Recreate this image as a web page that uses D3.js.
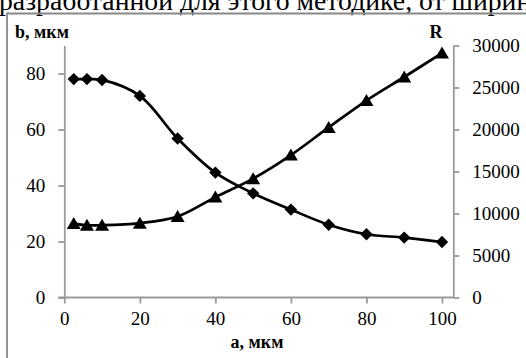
<!DOCTYPE html>
<html><head><meta charset="utf-8">
<script src="https://cdn.jsdelivr.net/npm/d3@7"></script>
<style>html,body{margin:0;padding:0;background:#fff;overflow:hidden}</style>
</head><body>
<script>
const aValues = [2.5, 6, 10, 20, 30, 40, 50, 60, 70, 80, 90, 100];
const bValues = [78, 78, 77.7, 72, 56.8, 44.6, 37.2, 31.4, 26, 22.6, 21.4, 19.8];
const rValues = [8800, 8600, 8600, 8850, 9650, 11950, 14150, 16950, 20250, 23450, 26250, 29100];
const xTicks = [0, 20, 40, 60, 80, 100];
const bTicks = [0, 20, 40, 60, 80];
const rTicks = [0, 5000, 10000, 15000, 20000, 25000, 30000];
const headText = "разработанной для этого методике, от ширины";
const bTitle = "b, мкм", rTitle = "R", aTitle = "a, мкм";

const W = 526, H = 358;
const FF = '"Liberation Serif"';
const svg = d3.select("body").append("svg").attr("width", W).attr("height", H);
const gray = "#9a9a9a";

const head = svg.append("text").attr("x", -1).attr("y", 9.5).style("font-family", FF).style("font-size", "22px")
  .attr("fill", "#000").text(headText);
const probe = svg.append("text").style("font-family", FF).style("font-size", "22px").text("разработанной");
const wl = probe.node().getComputedTextLength();
probe.remove();
head.style("font-size", (22 * 174 / wl).toFixed(2) + "px");

svg.append("path").attr("d", `M7,${H+2}V13.5H${W+2}`).attr("fill", "none").attr("stroke", "#888").attr("stroke-width", 1.8);

const x = d3.scaleLinear().domain([0, 103]).range([64.3, 453.3]);
const yL = d3.scaleLinear().domain([0, 90]).range([297.5, 45.5]);
const yR = d3.scaleLinear().domain([0, 30000]).range([297.5, 45.5]);

function styleAxis(g) {
  g.attr("font-family", null).attr("font-size", null);
  g.selectAll("path.domain").attr("stroke", gray).attr("stroke-width", 1.8);
  g.selectAll(".tick line").attr("stroke", gray).attr("stroke-width", 1.8);
  g.selectAll("text").style("font-family", FF).style("font-size", "19px").attr("fill", "#000");
}

const gx = svg.append("g").attr("transform", `translate(0,${yL(0)})`)
  .call(d3.axisBottom(x).tickValues(xTicks).tickSize(6).tickSizeOuter(0).tickPadding(8).tickFormat(d3.format("d")));
styleAxis(gx);
gx.select("path.domain").attr("d", `M${x(0)-6},0H${x(103)}`);

const gl = svg.append("g").attr("transform", `translate(${x(0)},0)`)
  .call(d3.axisLeft(yL).tickValues(bTicks).tickSize(6).tickSizeOuter(0).tickPadding(13).tickFormat(d3.format("d")));
styleAxis(gl);

const gr = svg.append("g").attr("transform", `translate(${x(103)},0)`)
  .call(d3.axisRight(yR).tickValues(rTicks).tickSize(6).tickSizeOuter(0).tickPadding(13).tickFormat(d3.format("d")));
styleAxis(gr);

svg.append("text").attr("x", 15).attr("y", 38).style("font-family", FF).style("font-size", "18px")
  .attr("font-weight", "bold").text(bTitle);
svg.append("text").attr("x", 436).attr("y", 38).attr("text-anchor", "middle").style("font-family", FF)
  .style("font-size", "18px").attr("font-weight", "bold").text(rTitle);
svg.append("text").attr("x", 257).attr("y", 348).attr("text-anchor", "middle").style("font-family", FF)
  .style("font-size", "18px").attr("font-weight", "bold").text(aTitle);

const curve = d3.curveCatmullRom.alpha(0.5);
const lineB = d3.line().x((d, i) => x(aValues[i])).y(d => yL(d)).curve(curve);
const lineR = d3.line().x((d, i) => x(aValues[i])).y(d => yR(d)).curve(curve);

svg.append("path").attr("d", lineB(bValues)).attr("fill", "none").attr("stroke", "#000").attr("stroke-width", 2.7);
svg.append("path").attr("d", lineR(rValues)).attr("fill", "none").attr("stroke", "#000").attr("stroke-width", 2.7);

svg.selectAll("path.dia").data(bValues).join("path").attr("class", "dia")
  .attr("transform", (d, i) => `translate(${x(aValues[i])},${yL(d)})`)
  .attr("d", "M0,-6.2L6.2,0L0,6.2L-6.2,0Z").attr("fill", "#000");

svg.selectAll("path.tri").data(rValues).join("path").attr("class", "tri")
  .attr("transform", (d, i) => `translate(${x(aValues[i])},${yR(d)})`)
  .attr("d", "M0,-6.5L7,5.5L-7,5.5Z").attr("fill", "#000");
</script>
</body></html>
